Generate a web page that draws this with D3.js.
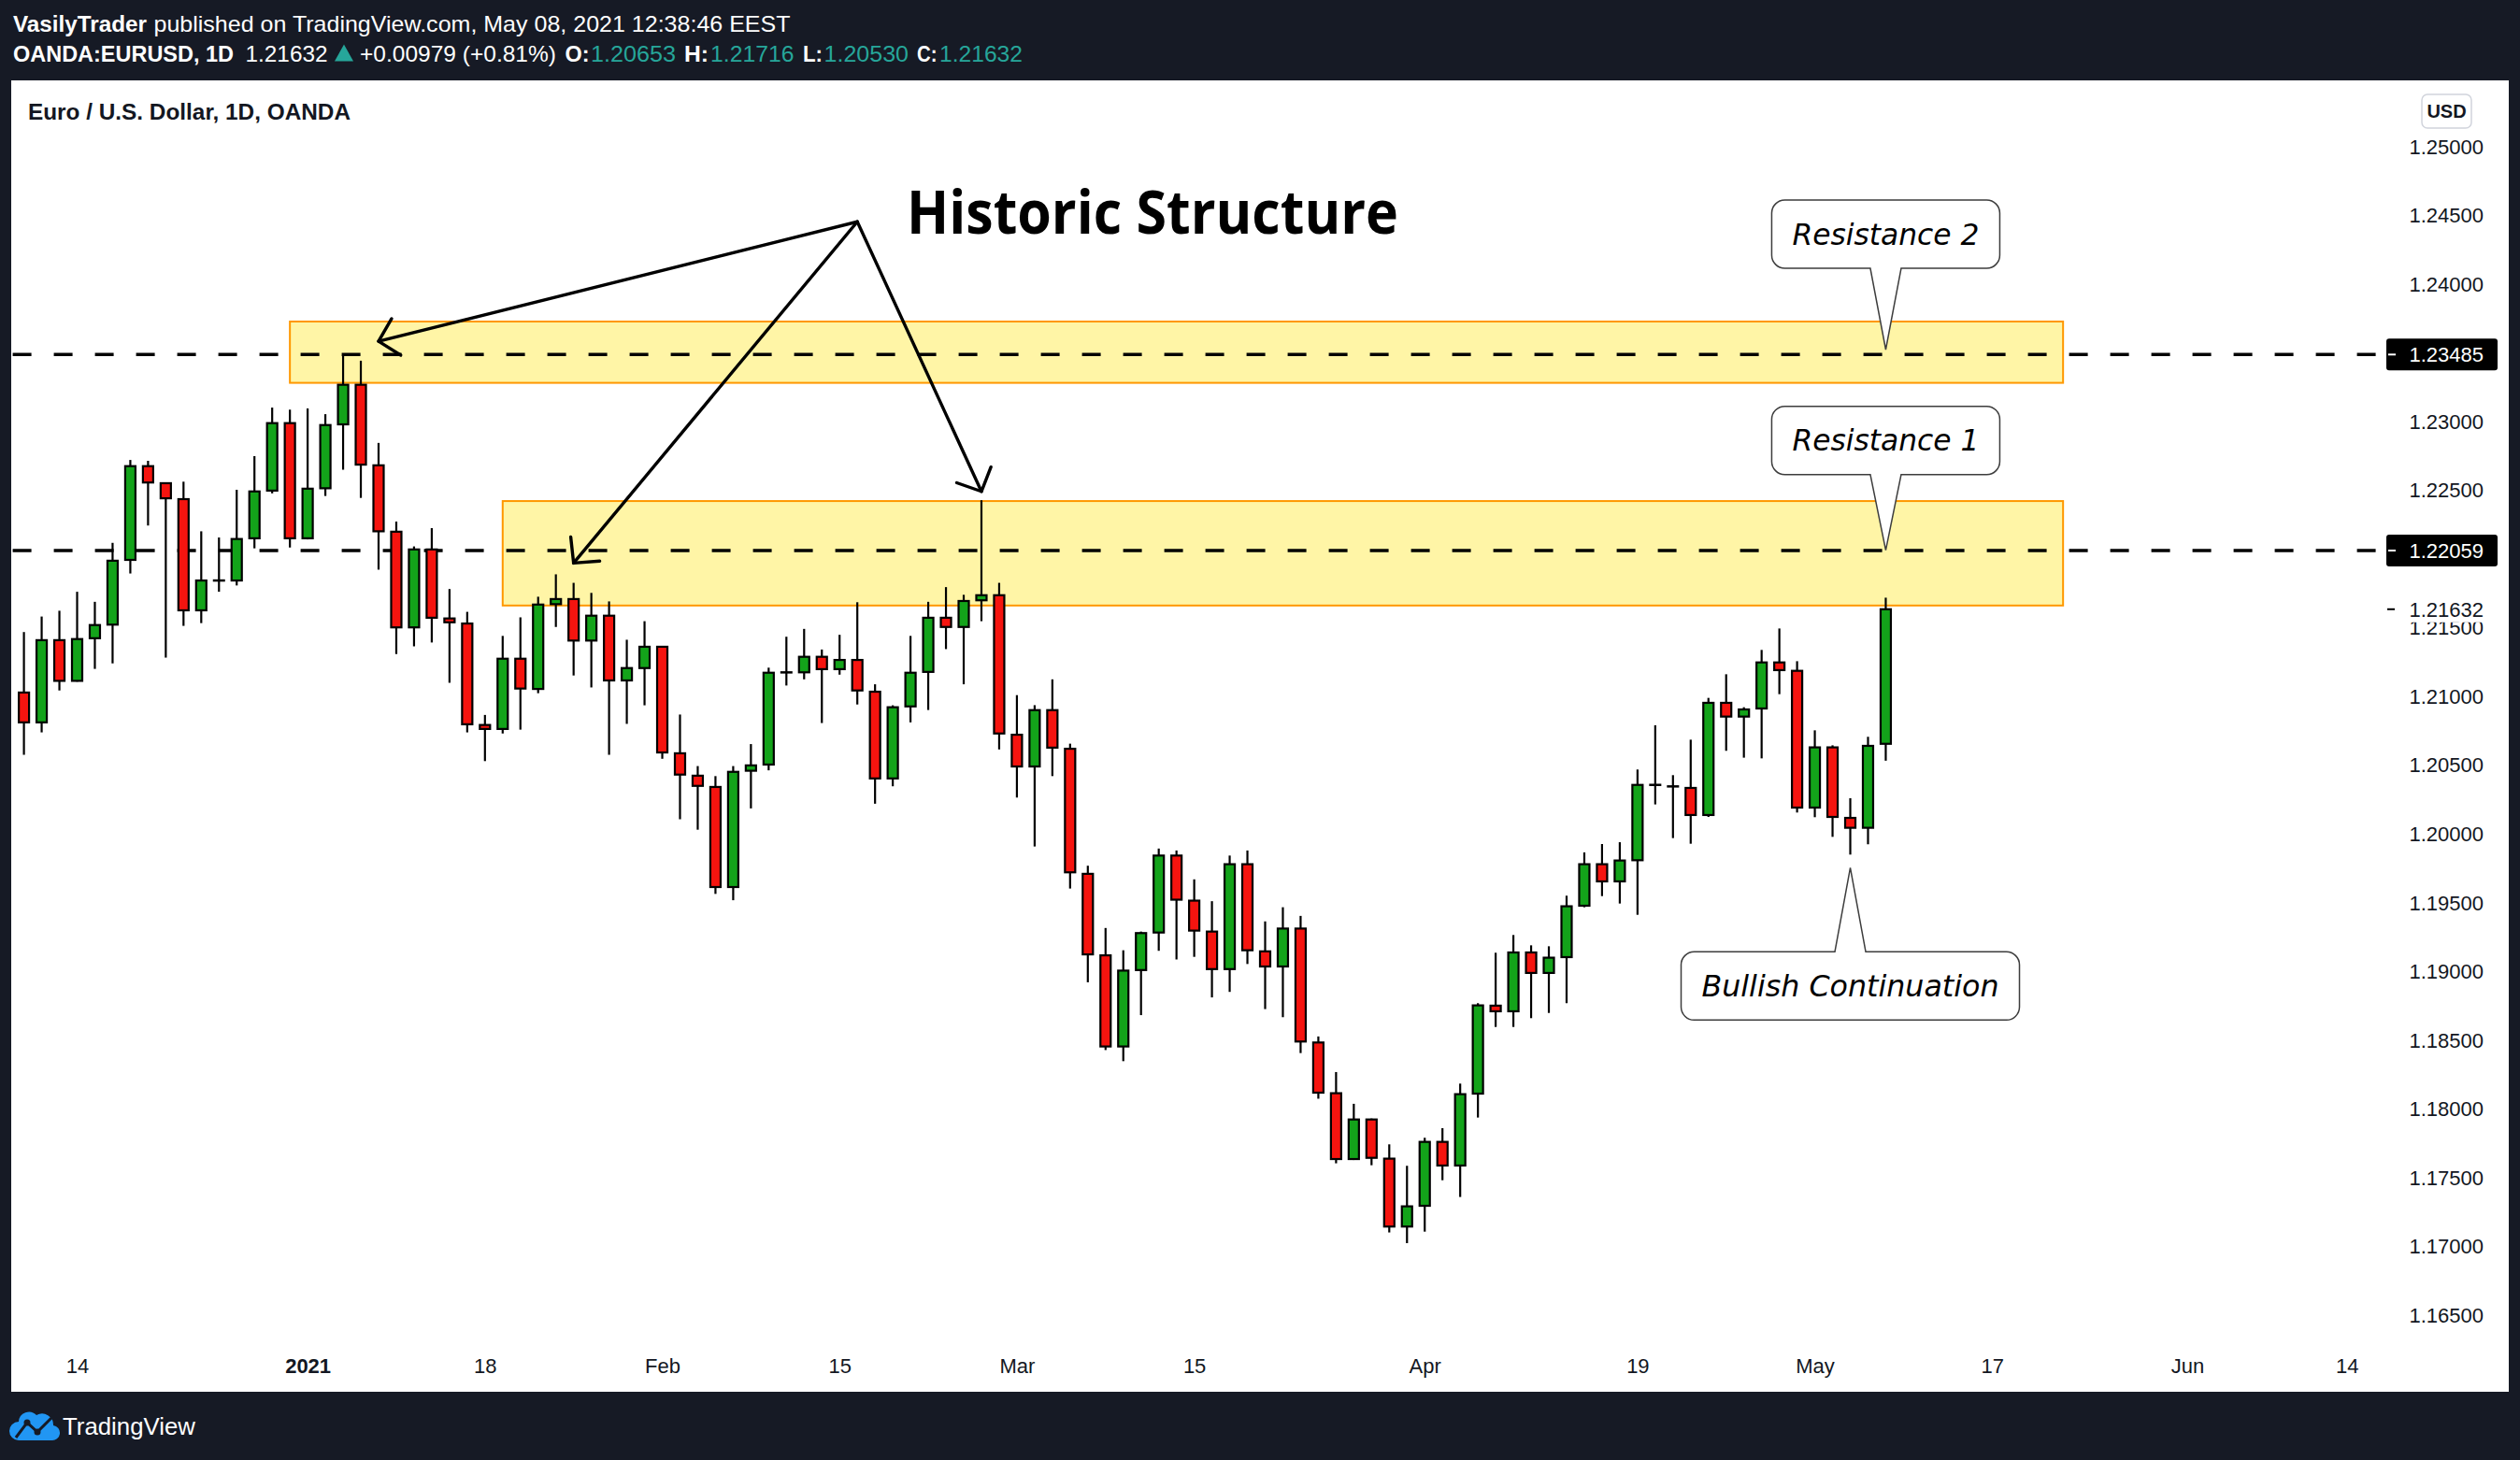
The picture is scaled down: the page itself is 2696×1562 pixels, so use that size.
<!DOCTYPE html>
<html><head><meta charset="utf-8">
<script src="https://cdn.jsdelivr.net/npm/d3@7"></script>
<style>html,body{margin:0;padding:0;background:#161a25;}svg{display:block;}</style>
</head><body>
<svg id="c" width="2696" height="1562"></svg>
<script>
// ---------- DATA ----------
const dates = [
"2020-12-09","2020-12-10","2020-12-11",
"2020-12-14","2020-12-15","2020-12-16","2020-12-17","2020-12-18",
"2020-12-21","2020-12-22","2020-12-23","2020-12-24",
"2020-12-28","2020-12-29","2020-12-30","2020-12-31",
"2021-01-04","2021-01-05","2021-01-06","2021-01-07","2021-01-08",
"2021-01-11","2021-01-12","2021-01-13","2021-01-14","2021-01-15",
"2021-01-18","2021-01-19","2021-01-20","2021-01-21","2021-01-22",
"2021-01-25","2021-01-26","2021-01-27","2021-01-28","2021-01-29",
"2021-02-01","2021-02-02","2021-02-03","2021-02-04","2021-02-05",
"2021-02-08","2021-02-09","2021-02-10","2021-02-11","2021-02-12",
"2021-02-15","2021-02-16","2021-02-17","2021-02-18","2021-02-19",
"2021-02-22","2021-02-23","2021-02-24","2021-02-25","2021-02-26",
"2021-03-01","2021-03-02","2021-03-03","2021-03-04","2021-03-05",
"2021-03-08","2021-03-09","2021-03-10","2021-03-11","2021-03-12",
"2021-03-15","2021-03-16","2021-03-17","2021-03-18","2021-03-19",
"2021-03-22","2021-03-23","2021-03-24","2021-03-25","2021-03-26",
"2021-03-29","2021-03-30","2021-03-31","2021-04-01","2021-04-02",
"2021-04-05","2021-04-06","2021-04-07","2021-04-08","2021-04-09",
"2021-04-12","2021-04-13","2021-04-14","2021-04-15","2021-04-16",
"2021-04-19","2021-04-20","2021-04-21","2021-04-22","2021-04-23",
"2021-04-26","2021-04-27","2021-04-28","2021-04-29","2021-04-30",
"2021-05-03","2021-05-04","2021-05-05","2021-05-06","2021-05-07"];

const open = [1.21026,1.20809,1.21407,1.21111,1.21421,1.21520,1.21991,1.22673,1.22549,1.22433,
1.21624,1.21838,1.21841,1.22148,1.22495,1.22986,1.22148,1.22512,1.22977,1.23265,
1.22679,1.22196,1.21500,1.22067,1.21565,1.21528,1.20790,1.20761,1.21272,1.21052,
1.21669,1.21706,1.21404,1.21585,1.21114,1.21204,1.21359,1.20584,1.20421,1.20339,
1.19611,1.20457,1.20502,1.21170,1.21173,1.21286,1.21196,1.21263,1.21032,1.20401,
1.20925,1.21176,1.21570,1.21503,1.21697,1.21734,1.20719,1.20488,1.20898,1.20617,
1.19707,1.19114,1.18451,1.19007,1.19280,1.19840,1.19512,1.19287,1.19014,1.19777,
1.19143,1.19033,1.19309,1.18480,1.18111,1.17632,1.17920,1.17635,1.17141,1.17292,
1.17757,1.17585,1.18108,1.18748,1.18707,1.19135,1.18986,1.19101,1.19475,1.19777,
1.19652,1.19806,1.20352,1.20345,1.20332,1.20135,1.20951,1.20851,1.20910,1.21245,
1.21184,1.20189,1.20627,1.20114,1.20042,1.20653];

const high = [1.21466,1.21579,1.21621,1.21759,1.21686,1.22115,1.22718,1.22712,1.22552,1.22560,
1.22199,1.22154,1.22501,1.22746,1.23099,1.23084,1.23093,1.23051,1.23485,1.23440,
1.22842,1.22270,1.22089,1.22222,1.21779,1.21613,1.20863,1.21438,1.21573,1.21723,
1.21886,1.21824,1.21751,1.21689,1.21410,1.21545,1.21365,1.20866,1.20491,1.20418,
1.20491,1.20651,1.21207,1.21432,1.21489,1.21339,1.21446,1.21683,1.21086,1.20933,
1.21438,1.21686,1.21793,1.21737,1.22425,1.21824,1.21007,1.20934,1.21122,1.20654,
1.19766,1.19313,1.19151,1.19287,1.19891,1.19877,1.19667,1.19508,1.19840,1.19877,
1.19361,1.19464,1.19401,1.18524,1.18265,1.18034,1.17927,1.17739,1.17583,1.17787,
1.17857,1.18181,1.18766,1.19133,1.19262,1.19187,1.19180,1.19548,1.19863,1.19924,
1.19937,1.20466,1.20788,1.20425,1.20683,1.20987,1.21159,1.20919,1.21336,1.21492,
1.21254,1.20751,1.20642,1.20257,1.20704,1.21716];

const low = [1.20573,1.20736,1.21041,1.21105,1.21198,1.21238,1.21892,1.22241,1.21280,1.21511,
1.21531,1.21759,1.21805,1.22075,1.22475,1.22081,1.22140,1.22456,1.22647,1.22442,
1.21920,1.21306,1.21362,1.21390,1.21097,1.20736,1.20527,1.20728,1.20756,1.21021,
1.21503,1.21150,1.21063,1.20573,1.20798,1.20933,1.20544,1.20104,1.20028,1.19561,
1.19515,1.20183,1.20460,1.21077,1.21122,1.20804,1.21156,1.20939,1.20217,1.20344,
1.20809,1.20899,1.21342,1.21086,1.21545,1.20612,1.20262,1.19906,1.20418,1.19600,
1.18918,1.18425,1.18344,1.18679,1.19147,1.19084,1.19103,1.18808,1.18848,1.19051,
1.18723,1.18664,1.18403,1.18071,1.17601,1.17625,1.17587,1.17098,1.17020,1.17104,
1.17478,1.17356,1.17934,1.18593,1.18593,1.18657,1.18695,1.18766,1.19464,1.19545,
1.19491,1.19409,1.20212,1.19967,1.19926,1.20121,1.20602,1.20552,1.20547,1.21014,
1.20153,1.20119,1.19976,1.19847,1.19922,1.20530];

const close = [1.20809,1.21407,1.21111,1.21415,1.21517,1.21985,1.22673,1.22554,1.22439,1.21624,
1.21841,1.21844,1.22143,1.22489,1.22986,1.22148,1.22509,1.22972,1.23265,1.22684,
1.22199,1.21500,1.22067,1.21570,1.21537,1.20795,1.20761,1.21272,1.21055,1.21666,
1.21706,1.21404,1.21585,1.21114,1.21204,1.21359,1.20590,1.20429,1.20347,1.19611,
1.20449,1.20496,1.21170,1.21175,1.21286,1.21196,1.21263,1.21041,1.20401,1.20919,
1.21170,1.21570,1.21503,1.21692,1.21734,1.20728,1.20488,1.20898,1.20625,1.19718,
1.19121,1.18451,1.19003,1.19276,1.19840,1.19519,1.19294,1.19014,1.19777,1.19151,
1.19033,1.19309,1.18487,1.18115,1.17632,1.17920,1.17641,1.17141,1.17288,1.17757,
1.17585,1.18104,1.18750,1.18707,1.19135,1.18986,1.19097,1.19471,1.19777,1.19652,
1.19804,1.20354,1.20356,1.20341,1.20135,1.20951,1.20851,1.20903,1.21245,1.21189,
1.20189,1.20627,1.20121,1.20042,1.20638,1.21632];

// visible price-scale labels (1.22000 and 1.23500 are hidden under the level badges)
const priceTicks = [1.165,1.17,1.175,1.18,1.185,1.19,1.195,1.2,1.205,1.21,1.215,1.225,1.23,1.24,1.245,1.25];
const dateTickIndex = [3,16,26,36,46,56,66,79,91,101,111,122,131];
const dateTickLabels = ["14","2021","18","Feb","15","Mar","15","Apr","19","May","17","Jun","14"];

const levelPrices = [1.23485, 1.22059];
const lastPrice = 1.21632;

const zoneStart = [15, 27];
const zoneEnd = [115, 115];
const zoneTop = [1.23725, 1.22419];
const zoneBottom = [1.23279, 1.21659];

const arrowApexIndex = 47, arrowApexPrice = 1.24451;
const arrowTipIndex = [20, 31, 54];
const arrowTipPrice = [1.23581, 1.21968, 1.22489];

const calloutText = ["Resistance 2", "Resistance 1", "Bullish Continuation"];
const calloutIndex = [105, 105, 103];
const calloutPrice = [1.23521, 1.22061, 1.19752];

// ---------- LAYOUT ----------
const svg = d3.select("#c");
const x = d3.scaleLinear().domain([0, 105]).range([25.6, 2017.45]);
const y = d3.scaleLinear().domain([1.165, 1.25]).range([1406.5, 156.5]);
const UP = "#13a31a", DOWN = "#f5140f", TEAL = "#26a69a", DARK = "#161a25";
const SANS = "'Liberation Sans', Arial, sans-serif";

svg.append("rect").attr("x",12).attr("y",86).attr("width",2672).attr("height",1403).attr("fill","#fff");

function txt(g, xx, yy, s, o) {
  const t = g.append("text").attr("x", xx).attr("y", yy).text(s)
    .attr("font-family", o.family || SANS).attr("font-size", o.size || 24)
    .attr("font-weight", o.weight || "normal").attr("fill", o.fill || "#fff");
  if (o.len) t.attr("textLength", o.len).attr("lengthAdjust", "spacingAndGlyphs");
  if (o.anchor) t.attr("text-anchor", o.anchor);
  if (o.style) t.attr("font-style", o.style);
  return t;
}

// ---------- header ----------
const hdr = svg.append("g");
txt(hdr, 14, 33.5, "VasilyTrader", {weight:"bold", len:143});
txt(hdr, 164.5, 33.5, "published on TradingView.com, May 08, 2021 12:38:46 EEST", {len:681});
txt(hdr, 14, 65.5, "OANDA:EURUSD, 1D", {weight:"bold", len:236});
txt(hdr, 262.5, 65.5, "1.21632", {len:88});
hdr.append("polygon").attr("points","358,65.5 368,47.5 378,65.5").attr("fill",TEAL);
txt(hdr, 385, 65.5, "+0.00979 (+0.81%)", {len:210});
const ohlcLabels = ["O:","H:","L:","C:"];
const ohlcValues = ["1.20653","1.21716","1.20530","1.21632"];
const ohlcPos = [[604.6,26,632,91],[732,26,760,89.5],[859,21,881.6,90.4],[981,21.5,1005,89]];
ohlcLabels.forEach((lab, i) => {
  const r = ohlcPos[i];
  txt(hdr, r[0], 65.5, lab, {weight:"bold", len:r[1]});
  txt(hdr, r[2], 65.5, ohlcValues[i], {fill:TEAL, len:r[3]});
});
txt(svg, 30, 127.5, "Euro / U.S. Dollar, 1D, OANDA", {weight:"bold", fill:"#131722", len:345});

// ---------- zones ----------
const zg = svg.append("g");
zoneStart.forEach((s, i) => {
  zg.append("rect").attr("x", x(s)).attr("y", y(zoneTop[i]))
    .attr("width", x(zoneEnd[i]) - x(s)).attr("height", y(zoneBottom[i]) - y(zoneTop[i]))
    .attr("fill", "#fff5a6").attr("stroke", "#ff9800").attr("stroke-width", 2);
});

// ---------- dashed levels ----------
levelPrices.forEach(p => {
  svg.append("line").attr("x1", 13.6).attr("x2", 2542).attr("y1", y(p)).attr("y2", y(p))
    .attr("stroke", "#000").attr("stroke-width", 3.6).attr("stroke-dasharray", "20,24");
});

// ---------- candles ----------
const cg = svg.append("g");
dates.forEach((d, i) => {
  const cx = x(i);
  cg.append("line").attr("x1", cx).attr("x2", cx).attr("y1", y(high[i])).attr("y2", y(low[i]))
    .attr("stroke", "#000").attr("stroke-width", 2.2);
  const yo = y(open[i]), yc = y(close[i]);
  const top = Math.min(yo, yc), h = Math.abs(yo - yc);
  if (h < 2.5) {
    cg.append("line").attr("x1", cx - 6.5).attr("x2", cx + 6.5).attr("y1", (yo + yc) / 2).attr("y2", (yo + yc) / 2)
      .attr("stroke", "#000").attr("stroke-width", 2.5);
  } else {
    cg.append("rect").attr("x", cx - 5.5).attr("y", top).attr("width", 11).attr("height", h)
      .attr("fill", close[i] >= open[i] ? UP : DOWN).attr("stroke", "#000").attr("stroke-width", 2.2);
  }
});

// ---------- arrows ----------
const ag = svg.append("g").attr("stroke", "#000").attr("stroke-width", 3.4).attr("stroke-linecap", "round")
  .attr("stroke-linejoin", "round").attr("fill", "none");
const ax0 = x(arrowApexIndex), ay0 = y(arrowApexPrice);
arrowTipIndex.forEach((ti, i) => {
  const tx = x(ti), ty = y(arrowTipPrice[i]);
  ag.append("line").attr("x1", ax0).attr("y1", ay0).attr("x2", tx).attr("y2", ty);
  const back = Math.atan2(ay0 - ty, ax0 - tx);
  const a = 46 * Math.PI / 180, L = 28;
  ag.append("path").attr("d",
    `M${tx + L * Math.cos(back - a)},${ty + L * Math.sin(back - a)} L${tx},${ty} L${tx + L * Math.cos(back + a)},${ty + L * Math.sin(back + a)}`);
});
txt(svg, 970, 250, "Historic Structure", {family:"'Open Sans', sans-serif", weight:700, size:64, fill:"#000", len:526});

// ---------- callouts ----------
const calloutW = [244, 244, 362], calloutH = 73, calloutGap = [-87, -81, 90], calloutTextLen = [200, 200, 318];
calloutText.forEach((s, i) => {
  const tx = x(calloutIndex[i]), ty = y(calloutPrice[i]);
  const w = calloutW[i], h = calloutH, r = 14, hw = 16.5;
  const bx = tx - w / 2;
  let d, by;
  if (calloutGap[i] < 0) {
    by = ty + calloutGap[i] - h; const bb = by + h;
    d = `M${bx + r},${by} H${bx + w - r} A${r},${r} 0 0 1 ${bx + w},${by + r} V${bb - r} A${r},${r} 0 0 1 ${bx + w - r},${bb}
         H${tx + hw} L${tx},${ty} L${tx - hw},${bb} H${bx + r} A${r},${r} 0 0 1 ${bx},${bb - r} V${by + r} A${r},${r} 0 0 1 ${bx + r},${by} Z`;
  } else {
    by = ty + calloutGap[i]; const bb = by + h;
    d = `M${bx + r},${by} H${tx - hw} L${tx},${ty} L${tx + hw},${by} H${bx + w - r} A${r},${r} 0 0 1 ${bx + w},${by + r} V${bb - r}
         A${r},${r} 0 0 1 ${bx + w - r},${bb} H${bx + r} A${r},${r} 0 0 1 ${bx},${bb - r} V${by + r} A${r},${r} 0 0 1 ${bx + r},${by} Z`;
  }
  svg.append("path").attr("d", d).attr("fill", "#fff").attr("stroke", "#3d3d3d").attr("stroke-width", 1.5);
  txt(svg, tx, by + h / 2 + 11, s, {family:"'DejaVu Sans', sans-serif", style:"italic", size:31.5, fill:"#000", anchor:"middle", len:calloutTextLen[i]});
});

// ---------- price axis ----------
const pa = svg.append("g").attr("transform", "translate(2657,0)")
  .call(d3.axisRight(y).tickValues(priceTicks).tickFormat(d3.format(".5f")).tickSize(0));
pa.select(".domain").remove();
pa.selectAll("text").attr("x", 0).attr("dy", "0.35em").attr("text-anchor", "end")
  .attr("font-family", SANS).attr("font-size", 22).attr("fill", "#131722");

svg.append("rect").attr("x", 2548).attr("y", y(lastPrice) - 14).attr("width", 130).attr("height", 28).attr("fill", "#fff");
svg.append("line").attr("x1", 2554).attr("x2", 2562).attr("y1", y(lastPrice)).attr("y2", y(lastPrice)).attr("stroke", "#000").attr("stroke-width", 2);
txt(svg, 2657, y(lastPrice) + 7.8, d3.format(".5f")(lastPrice), {size:22, fill:"#131722", anchor:"end"});

levelPrices.forEach(p => {
  svg.append("rect").attr("x", 2553).attr("y", y(p) - 17).attr("width", 119).attr("height", 34).attr("rx", 3).attr("fill", "#000");
  svg.append("line").attr("x1", 2555).attr("x2", 2563).attr("y1", y(p)).attr("y2", y(p)).attr("stroke", "#fff").attr("stroke-width", 2);
  txt(svg, 2657, y(p) + 7.8, d3.format(".5f")(p), {size:22, fill:"#fff", anchor:"end"});
});

svg.append("rect").attr("x", 2591).attr("y", 101).attr("width", 53).attr("height", 36).attr("rx", 6)
  .attr("fill", "#fff").attr("stroke", "#d1d4dc").attr("stroke-width", 1.5);
txt(svg, 2617.5, 126, "USD", {size:20, weight:600, fill:"#131722", anchor:"middle"});

// ---------- time axis ----------
const ta = svg.append("g").attr("transform", "translate(0,1461)")
  .call(d3.axisBottom(x).tickValues(dateTickIndex).tickFormat((d, i) => dateTickLabels[i]).tickSize(0));
ta.select(".domain").remove();
ta.selectAll("text").attr("y", 0).attr("dy", "0.35em")
  .attr("font-family", SANS).attr("font-size", 22).attr("fill", "#131722")
  .attr("font-weight", (d, i) => /^\d{4}$/.test(dateTickLabels[i]) ? "bold" : "normal");

// ---------- footer ----------
const fg = svg.append("g");
fg.append("path").attr("d", "M20,1541 H55 A8,8 0 0 0 57,1525 A12,12 0 0 0 39,1514 A11,11 0 0 0 20,1521 A10,10 0 0 0 20,1541 Z").attr("fill", "#2196f3");
fg.append("polyline").attr("points", "17,1538 29,1522 40,1532 55,1517").attr("fill", "none").attr("stroke", DARK).attr("stroke-width", 3);
[[29,1522],[40,1532]].forEach(p => fg.append("circle").attr("cx", p[0]).attr("cy", p[1]).attr("r", 3.5).attr("fill", DARK));
txt(fg, 67, 1535, "TradingView", {size:25, len:142});
</script>
</body></html>
